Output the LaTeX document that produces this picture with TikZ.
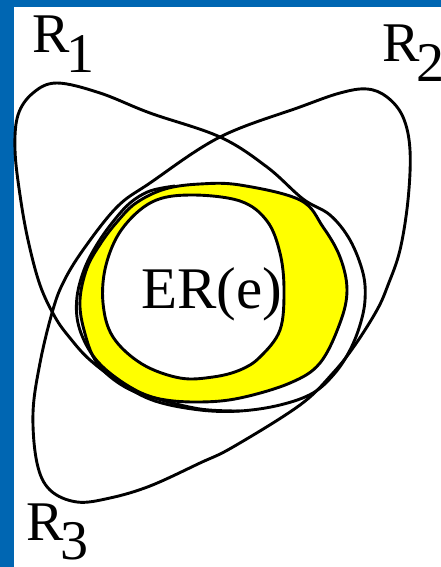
\documentclass[tikz,border=0pt]{standalone}
\usepackage{fontspec}
\setmainfont{Liberation Serif}
\definecolor{frameblue}{RGB}{0,102,178}
\definecolor{ryellow}{RGB}{255,255,0}
\begin{document}
\begin{tikzpicture}[x=1pt,y=-1pt,
  curve/.style={draw=black,line width=2.9pt,line join=round},
  lbl/.style={font=\fontsize{56}{56}\selectfont,inner sep=0pt,anchor=base west}]
\newcommand{\rsub}[1]{R\kern-0.05em\raisebox{-0.34em}{#1}}
\useasboundingbox (0,0) rectangle (441,567);
\fill[white] (0,0) rectangle (441,567);
\fill[frameblue] (0,0) rectangle (14,567);
\fill[frameblue] (0,0) rectangle (441,7);
% yellow region (outer boundary)
\path[curve,fill=ryellow] plot[smooth cycle,tension=0.6] coordinates {
 (165,189) (200,184) (240,185) (300,200) (323,227) (340,257) (347,290)
 (340,323) (320,363) (290,383) (240,398) (200,402) (160,399) (125,387)
 (97,363) (84,330) (80,300) (87,268) (101,243) (117,222) (136,203)};
% ER(e) blob
\path[curve,fill=white] plot[smooth cycle,tension=0.6] coordinates {
 (152,202) (190,195) (240,201) (267,221) (280,253) (284,290) (280,330)
 (260,357) (240,370) (213,377) (180,378) (142,364) (113,337) (103,303)
 (106,265) (122,229)};
\node[lbl,font=\fontsize{59}{59}\selectfont] (er) at (141,308) {ER(e)};
% R1 teardrop
\draw[curve] plot[smooth cycle,tension=0.6] coordinates {
 (57,83) (100,93) (150,113) (220,137) (267,167) (303,199) (330,215)
 (350,240) (363,273) (365,300) (360,325) (350,350) (335,373) (313,393)
 (280,405) (240,411) (200,410) (155,401) (122,384) (90,360) (70,338)
 (55,317) (40,285) (28,240) (20,195) (15,150) (18,115) (33,93)};
% R2/R3 lens
\draw[curve] plot[smooth cycle,tension=0.6] coordinates {
 (367,89) (387,97) (403,117) (410,150) (408,200) (400,250) (388,285)
 (377,310) (355,345) (333,373) (300,405) (233,447) (200,463) (150,486)
 (110,498) (77,502) (50,490) (37,463) (33,413) (40,363) (52,313)
 (63,283) (83,250) (117,207) (150,183) (220,137) (300,107) (340,93)};
% arc just outside the yellow region
\draw[curve] plot[smooth,tension=0.6] coordinates {
 (175,186) (150,191) (130,203) (112,223) (96,246) (84,270) (77,297)
 (78,323) (88,348) (104,368) (130,387) (155,398) (200,409) (240,411)};
% labels
\node[lbl] (r1) at (32,53) {\rsub{1}};
\node[lbl] (r2) at (382,62) {\rsub{2}};
\node[lbl] (r3) at (26,540) {\rsub{3}};
\end{tikzpicture}
\end{document}
